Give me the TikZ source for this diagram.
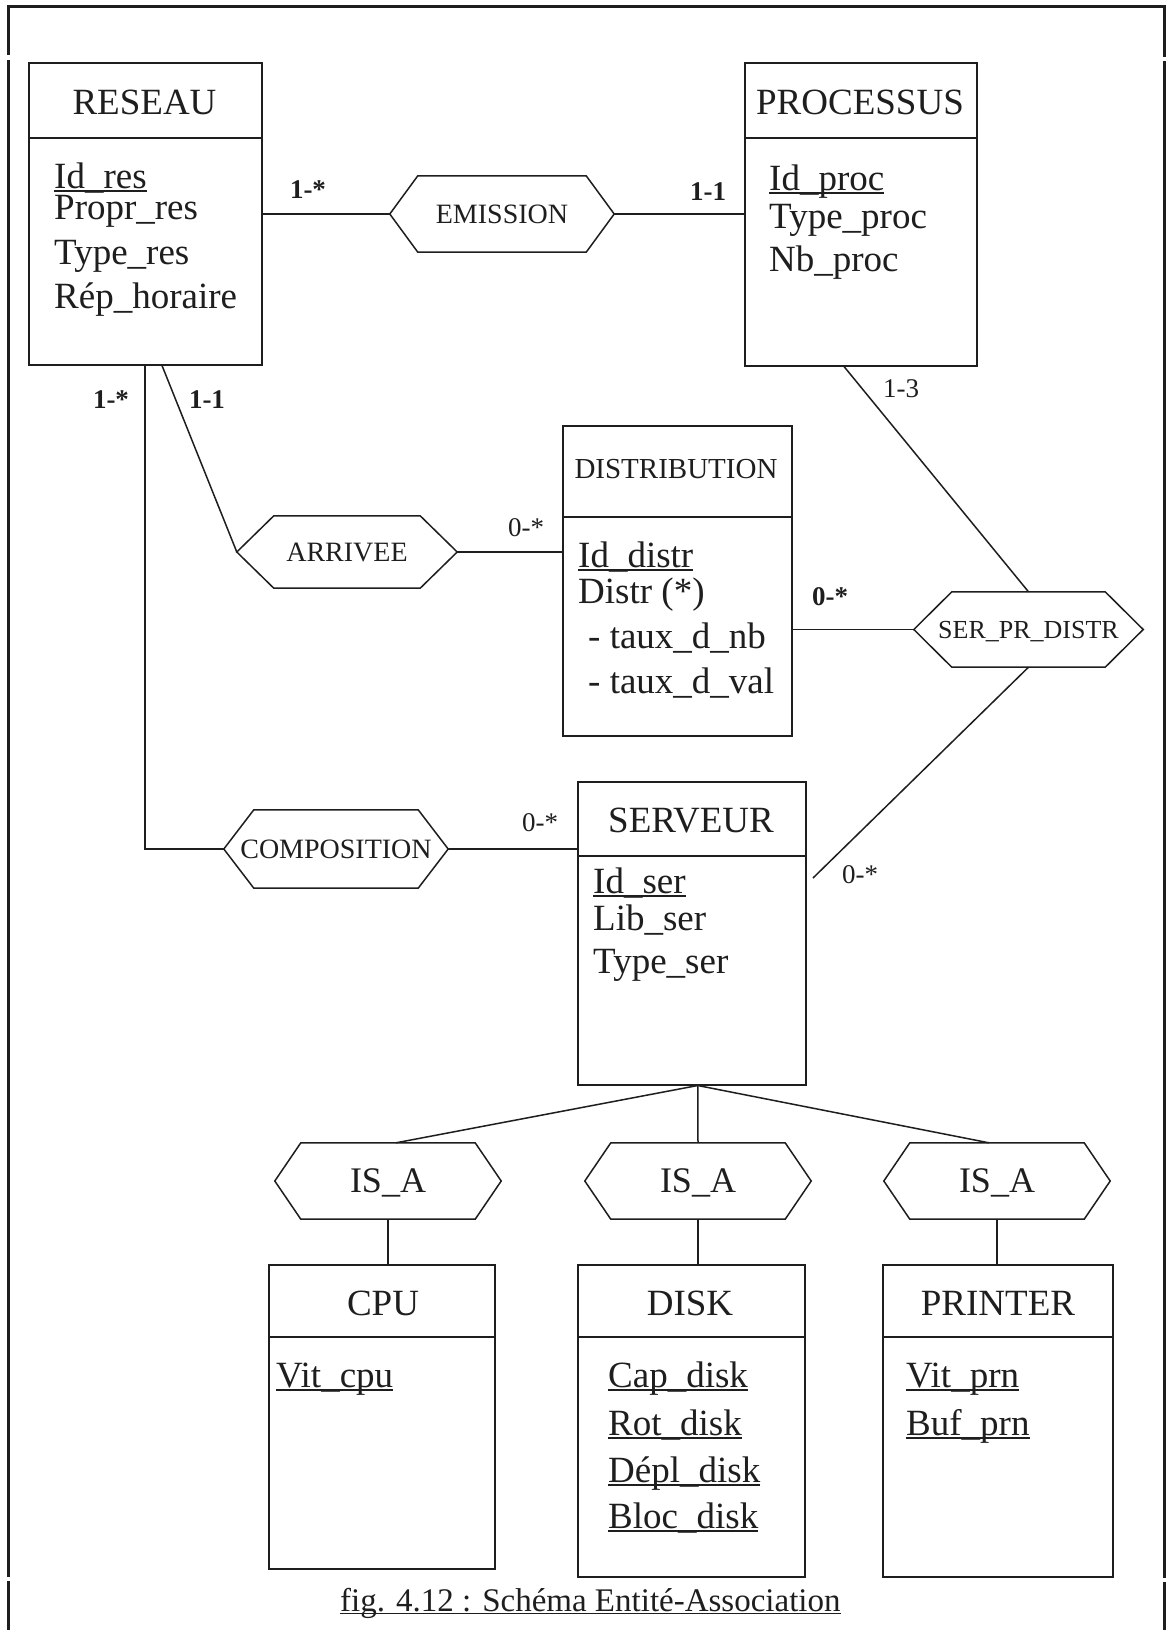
\documentclass[tikz,border=0pt]{standalone}
\usepackage{fontspec}
\setmainfont{Liberation Serif}
\definecolor{ink}{HTML}{1E1E1E}
\newcommand\ul[1]{\sbox0{#1}\rlap{\rule[-0.1em]{\wd0}{0.055em}}\usebox0}
\newcommand\hexa[8]{%
  \pgfmathsetmacro\hexcap{0.66*#7}%
  \node[hexlab, text height=\hexcap pt, minimum width=#4pt, minimum height=#5pt, font=\fontsize{#7}{#7}\selectfont] (#1) at (#2,#3) {#8};
  \draw[ln] (#1.west) -- ([xshift=#6pt]#1.north west) -- ([xshift=-#6pt]#1.north east) -- (#1.east)
    -- ([xshift=-#6pt]#1.south east) -- ([xshift=#6pt]#1.south west) -- cycle;}
\tikzset{
  ln/.style={line width=1.5pt, draw=ink},
  frameline/.style={line width=3pt, draw=ink},
  ebox/.style={draw=ink, line width=1.5pt, inner sep=0pt, anchor=north west},
  ttl/.style={font=\fontsize{37}{40}\selectfont, inner sep=0pt, text height=24.4pt, text depth=0pt, text=ink},
  attr/.style={font=\fontsize{37}{40}\selectfont, inner sep=0pt, anchor=base west, text=ink},
  card/.style={font=\fontsize{27}{29}\selectfont\bfseries, inner sep=0pt, text=ink},
  cardr/.style={font=\fontsize{27}{29}\selectfont, inner sep=0pt, text=ink},
  hexlab/.style={inner sep=0pt, text depth=0pt, text=ink},
}
\begin{document}
\begin{tikzpicture}[x=1pt,y=-1pt]
\useasboundingbox[fill=white] (0,0) rectangle (1172,1630);
% frame
\draw[frameline] (8,55) -- (8,6) -- (1164,6) -- (1164,57);
\draw[frameline] (8,60) -- (8,1577);
\draw[frameline] (8,1581) -- (8,1630);
\draw[frameline] (1164,61) -- (1164,1578);
\draw[frameline] (1164,1582) -- (1164,1630);

% RESEAU
\node[ebox, minimum width=233pt, minimum height=302pt] (reseau) at (28,62) {};
\draw[ln] ([yshift=-76pt]reseau.north west) -- ([yshift=-76pt]reseau.north east);
\node[ttl] (reseau-t) at (144.5,102) {RESEAU};
\node[attr] (reseau-a1) at (54,188) {\ul{Id\_res}};
\node[attr] (reseau-a2) at (54,219) {Propr\_res};
\node[attr] (reseau-a3) at (54,264) {Type\_res};
\node[attr] (reseau-a4) at (54,308) {Rép\_horaire};

% PROCESSUS
\node[ebox, minimum width=232pt, minimum height=303pt] (processus) at (744,62) {};
\draw[ln] ([yshift=-76pt]processus.north west) -- ([yshift=-76pt]processus.north east);
\node[ttl] (processus-t) at (860,102) {PROCESSUS};
\node[attr] (processus-a1) at (769,190) {\ul{Id\_proc}};
\node[attr] (processus-a2) at (769,228) {Type\_proc};
\node[attr] (processus-a3) at (769,271) {Nb\_proc};

% DISTRIBUTION
\node[ebox, minimum width=229pt, minimum height=310pt] (distribution) at (562,425) {};
\draw[ln] ([yshift=-92pt]distribution.north west) -- ([yshift=-92pt]distribution.north east);
\node[ttl, font=\fontsize{29}{32}\selectfont, text height=19.1pt] (distribution-t) at (676,469) {DISTRIBUTION};
\node[attr] (distribution-a1) at (578,567) {\ul{Id\_distr}};
\node[attr] (distribution-a2) at (578,603) {Distr (*)};
\node[attr] (distribution-a3) at (588,648) {- taux\_d\_nb};
\node[attr] (distribution-a4) at (588,693) {- taux\_d\_val};

% SERVEUR
\node[ebox, minimum width=228pt, minimum height=303pt] (serveur) at (577,781) {};
\draw[ln] ([yshift=-75pt]serveur.north west) -- ([yshift=-75pt]serveur.north east);
\node[ttl] (serveur-t) at (691,820) {SERVEUR};
\node[attr] (serveur-a1) at (593,893) {\ul{Id\_ser}};
\node[attr] (serveur-a2) at (593,930) {Lib\_ser};
\node[attr] (serveur-a3) at (593,973) {Type\_ser};

% CPU
\node[ebox, minimum width=226pt, minimum height=304pt] (cpu) at (268,1264) {};
\draw[ln] ([yshift=-73pt]cpu.north west) -- ([yshift=-73pt]cpu.north east);
\node[ttl] (cpu-t) at (383,1303) {CPU};
\node[attr] (cpu-a1) at (276,1387) {\ul{Vit\_cpu}};

% DISK
\node[ebox, minimum width=227pt, minimum height=312pt] (disk) at (577,1264) {};
\draw[ln] ([yshift=-73pt]disk.north west) -- ([yshift=-73pt]disk.north east);
\node[ttl] (disk-t) at (690,1303) {DISK};
\node[attr] (disk-a1) at (608,1387) {\ul{Cap\_disk}};
\node[attr] (disk-a2) at (608,1435) {\ul{Rot\_disk}};
\node[attr] (disk-a3) at (608,1482) {\ul{Dépl\_disk}};
\node[attr] (disk-a4) at (608,1528) {\ul{Bloc\_disk}};

% PRINTER
\node[ebox, minimum width=230pt, minimum height=312pt] (printer) at (882,1264) {};
\draw[ln] ([yshift=-73pt]printer.north west) -- ([yshift=-73pt]printer.north east);
\node[ttl] (printer-t) at (998,1303) {PRINTER};
\node[attr] (printer-a1) at (906,1387) {\ul{Vit\_prn}};
\node[attr] (printer-a2) at (906,1435) {\ul{Buf\_prn}};

% relationships
\hexa{emission}{502}{214}{224}{76}{28}{28}{EMISSION}
\hexa{arrivee}{347}{552}{220}{72}{37}{28}{ARRIVEE}
\hexa{serpr}{1028.5}{629.5}{229}{75}{38}{26}{SER\_PR\_DISTR}
\hexa{composition}{336}{849}{224}{78}{30}{28}{COMPOSITION}
\hexa{isa1}{388}{1181}{226}{76}{26}{36}{IS\_A}
\hexa{isa2}{698}{1181}{226}{76}{26}{36}{IS\_A}
\hexa{isa3}{997}{1181}{226}{76}{26}{36}{IS\_A}

% connectors
\draw[ln] (reseau.east |- emission.west) -- (emission.west);
\draw[ln] (emission.east) -- (processus.west |- emission.east);
\draw[ln] ([xshift=117pt]reseau.south west) |- (composition.west);
\draw[ln] ([xshift=134pt]reseau.south west) -- (arrivee.west);
\draw[ln] (arrivee.east) -- (distribution.west |- arrivee.east);
\draw[ln] (distribution.east |- serpr.west) -- (serpr.west);
\draw[ln] ([xshift=100pt]processus.south west) -- (serpr.north);
\coordinate (serfree) at (813,878);
\draw[ln] (serpr.south) -- (serfree);
\draw[ln] (composition.east) -- (serveur.west |- composition.east);
\coordinate (fork) at ([xshift=6pt]serveur.south);
\draw[ln] ([xshift=8pt]isa1.north) -- (fork) -- ([xshift=-8pt]isa3.north);
\draw[ln] (fork) -- (isa2.north);
\draw[ln] (isa1.south) -- (isa1.south |- cpu.north);
\draw[ln] (isa2.south) -- (isa2.south |- disk.north);
\draw[ln] (isa3.south) -- (isa3.south |- printer.north);

% cardinalities
\node[card] (c1) at (308,190) {1-*};
\node[card] (c2) at (708,192) {1-1};
\node[card] (c3) at (111,400) {1-*};
\node[card] (c4) at (207,400) {1-1};
\node[cardr] (c5) at (901,389) {1-3};
\node[cardr] (c6) at (526,528) {0-*};
\node[card] (c7) at (830,597) {0-*};
\node[cardr] (c8) at (540,823) {0-*};
\node[cardr] (c9) at (860,875) {0-*};

% caption
\node[attr, font=\fontsize{33}{36}\selectfont] (caption) at (340,1611) {\ul{fig. 4.12 : Schéma Entité-Association}};
\end{tikzpicture}
\end{document}
